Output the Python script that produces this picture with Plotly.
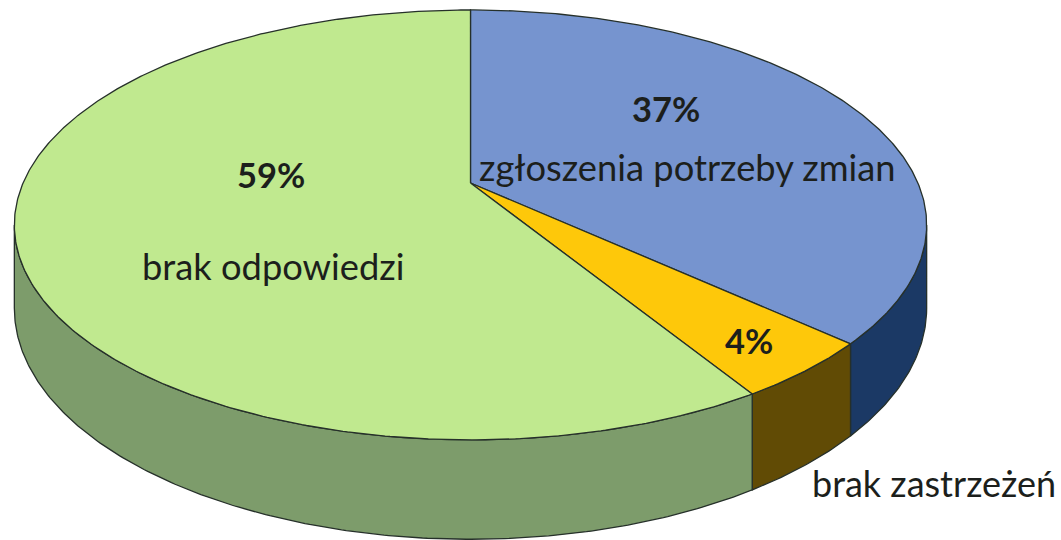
import numpy as np
import plotly.graph_objects as go

categories = ["zgłoszenia potrzeby zmian", "brak zastrzeżeń", "brak odpowiedzi"]
shares = [36.8, 4.4, 58.8]
percent_labels = ["37%", "4%", "59%"]
top_colors = ["#7694CF", "#FEC80A", "#C0E98F"]
side_colors = ["#1B3965", "#614B05", "#7D9C6B"]

# perspective view of the disc, in pixel-sized axis units
CX, CY, A, B, K, DEPTH = 470.5, 183.0, 447.4, 206.8, 0.195, 80.0
LINE = "#26302A"
VIS = np.degrees(np.arccos(-K))  # silhouette angle


def rim(theta_deg, drop=False):
    t = np.radians(theta_deg)
    s, c = np.sin(t), np.cos(t)
    den = 1 + K * c
    x = CX + A * s / den
    y = CY - B * c / den
    if drop:
        y = y + DEPTH / den
    return x, y


def arc(a, b):
    return np.linspace(a, b, max(int(abs(b - a) * 2), 2) + 1)


edges = np.concatenate([[0], np.cumsum(shares)]) * 3.6
fig = go.Figure()

# side walls
for i in range(len(shares)):
    a, b = max(edges[i], VIS), min(edges[i + 1], 360 - VIS)
    if b <= a:
        continue
    th = arc(a, b)
    x1, y1 = rim(th)
    x2, y2 = rim(th[::-1], True)
    fig.add_trace(go.Scatter(x=np.r_[x1, x2, x1[0]], y=np.r_[y1, y2, y1[0]], mode="lines",
                             fill="toself", fillcolor=side_colors[i],
                             line=dict(color=LINE, width=1.3), hoverinfo="skip", showlegend=False))

# top face
for i in range(len(shares)):
    x1, y1 = rim(arc(edges[i], edges[i + 1]))
    fig.add_trace(go.Scatter(x=np.r_[CX, x1, CX], y=np.r_[CY, y1, CY], mode="lines",
                             fill="toself", fillcolor=top_colors[i],
                             line=dict(color=LINE, width=1.3), name=categories[i],
                             hoverinfo="skip", showlegend=False))

FONT = "Lato, sans-serif"
TXT = "#1C1F1C"
labels = [
    (f"<b>{percent_labels[0]}</b>", 666, 108, 34.5),
    (categories[0], 687, 167, 36.3),
    (f"<b>{percent_labels[1]}</b>", 749, 340, 34.5),
    (categories[1], 934, 483, 36),
    (f"<b>{percent_labels[2]}</b>", 271, 174, 34.5),
    (categories[2], 273, 266, 36.3),
]
for text, x, y, size in labels:
    fig.add_annotation(x=x, y=y, text=text, showarrow=False, xanchor="center", yanchor="middle",
                       font=dict(family=FONT, size=size, color=TXT))

fig.update_layout(width=1061, height=540, margin=dict(l=0, r=0, t=0, b=0),
                  paper_bgcolor="white", plot_bgcolor="white", showlegend=False,
                  xaxis=dict(range=[0, 1061], visible=False, fixedrange=True),
                  yaxis=dict(range=[540, 0], visible=False, fixedrange=True))
fig.write_html("out.html", config={"displayModeBar": False},
               post_script="document.body.style.margin='0';document.body.style.overflow='hidden';")
